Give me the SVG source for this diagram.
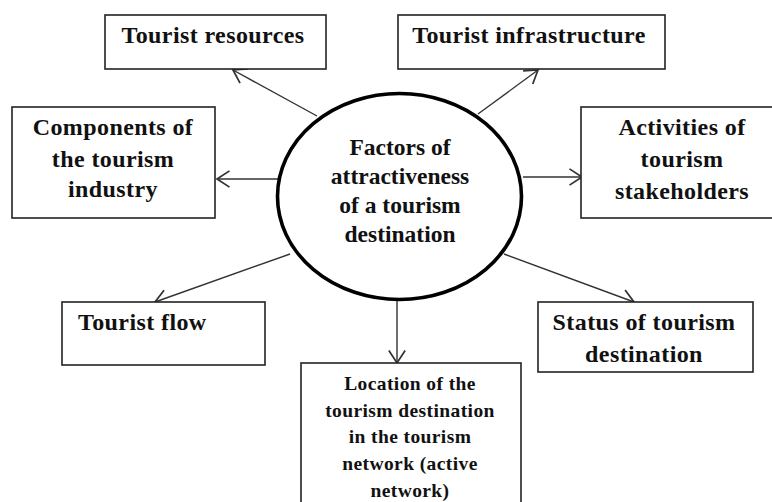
<svg xmlns="http://www.w3.org/2000/svg" width="772" height="502" viewBox="0 0 772 502">
<style>
.box{fill:#fff;stroke:#222;stroke-width:1.6}
.t{font-family:"Liberation Serif","Times New Roman",serif;font-weight:bold;font-size:24px;fill:#111;text-anchor:middle;letter-spacing:0.4px}
.s{font-size:19.5px;letter-spacing:0.4px}
.c{font-size:23.5px;letter-spacing:0}
.conn{stroke:#333;stroke-width:1.4;fill:none;marker-end:url(#ah)}
</style>
<defs>
<marker id="ah" markerUnits="userSpaceOnUse" markerWidth="20" markerHeight="20" viewBox="-12 -8 14 16" refX="0" refY="0" orient="auto">
<path d="M-10,-6.5 L0,0 L-10,6.5" fill="none" stroke="#333" stroke-width="1.4"/>
</marker>
</defs>
<g id="connectors">
<line class="conn" x1="317" y1="116" x2="233" y2="70"/>
<line class="conn" x1="478" y1="114" x2="538" y2="70"/>
<line class="conn" x1="278" y1="179" x2="217" y2="179"/>
<line class="conn" x1="523" y1="177" x2="582" y2="177"/>
<line class="conn" x1="290" y1="254" x2="155" y2="302"/>
<line class="conn" x1="504" y1="254" x2="634" y2="302"/>
<line class="conn" x1="397" y1="300" x2="397" y2="363"/>
</g>
<g id="center">
<ellipse cx="399.5" cy="196.5" rx="122" ry="103" fill="#fff" stroke="#000" stroke-width="3.6"/>
<text class="t c" x="400" y="155">Factors of</text>
<text class="t c" x="400" y="184">attractiveness</text>
<text class="t c" x="400" y="213">of a tourism</text>
<text class="t c" x="400" y="242">destination</text>
</g>
<g id="resources">
<rect class="box" x="105" y="15" width="221" height="54"/>
<text class="t" x="213" y="43">Tourist resources</text>
</g>
<g id="infrastructure">
<rect class="box" x="398" y="15" width="267" height="54"/>
<text class="t" x="529" y="43">Tourist infrastructure</text>
</g>
<g id="components">
<rect class="box" x="12" y="107" width="203" height="111"/>
<text class="t" x="113" y="135">Components of</text>
<text class="t" x="113" y="167">the tourism</text>
<text class="t" x="113" y="197">industry</text>
</g>
<g id="activities">
<rect class="box" x="581" y="107" width="205" height="111"/>
<text class="t" x="682" y="135">Activities of</text>
<text class="t" x="682" y="167">tourism</text>
<text class="t" x="682" y="199">stakeholders</text>
</g>
<g id="flow">
<rect class="box" x="62" y="302" width="203" height="63"/>
<text class="t" x="78" y="330" style="text-anchor:start">Tourist flow</text>
</g>
<g id="status">
<rect class="box" x="538" y="302" width="215" height="70"/>
<text class="t" x="644" y="330">Status of tourism</text>
<text class="t" x="644" y="362">destination</text>
</g>
<g id="location">
<rect class="box" x="301" y="363" width="220" height="150"/>
<text class="t s" x="410" y="390">Location of the</text>
<text class="t s" x="410" y="417">tourism destination</text>
<text class="t s" x="410" y="443">in the tourism</text>
<text class="t s" x="410" y="470">network (active</text>
<text class="t s" x="410" y="497">network)</text>
</g>
</svg>
